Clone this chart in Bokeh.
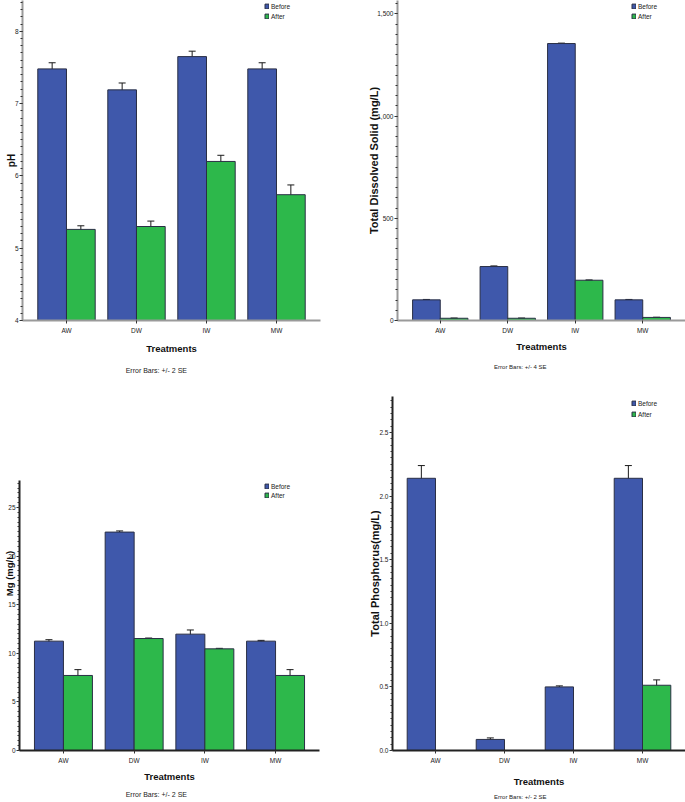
from bokeh.plotting import figure
from bokeh.models import (FactorRange, Range1d, Whisker, TeeHead, ColumnDataSource, Title,
                          Legend, LegendItem, SingleIntervalTicker, NumeralTickFormatter)
from bokeh.transform import dodge
from bokeh.layouts import row, column
from bokeh.embed import file_html
from bokeh.resources import INLINE

# ---------------- data ----------------
treatments = ["AW", "DW", "IW", "MW"]
series = ["Before", "After"]

ph_before = [7.48, 7.19, 7.65, 7.48]
ph_after = [5.26, 5.30, 6.20, 5.74]
ph_before_err = [0.085, 0.095, 0.075, 0.085]
ph_after_err = [0.05, 0.075, 0.085, 0.135]

tds_before = [101, 264, 1355, 101]
tds_after = [11, 11, 197, 15]
tds_before_err = [2, 3, 2, 2]
tds_after_err = [1, 1, 1.5, 1]

mg_before = [11.25, 22.47, 11.97, 11.25]
mg_after = [7.72, 11.52, 10.46, 7.72]
mg_before_err = [0.15, 0.12, 0.43, 0.08]
mg_after_err = [0.6, 0.05, 0.05, 0.6]

tp_before = [2.14, 0.087, 0.50, 2.14]
tp_after = [0.0, 0.0, 0.0, 0.513]
tp_before_err = [0.10, 0.012, 0.008, 0.10]
tp_after_err = [0.0, 0.0, 0.0, 0.042]

BLUE = "#3F58AB"
GREEN = "#2DB84B"
EDGE = "#2a2f45"
FONT = "Liberation Sans"


def make_panel(fig_box, frame, ymin, ymax, pad,
               before, after, berr, aerr, ytitle, ytitle_size, ytitle_standoff,
               xtitle_standoff, err_text, err_center_x, err_size, err_standoff,
               axis_color, interval, legend_center, legend_left, legend_spacing,
               fmt=None, axis_top=None):
    fx, fy, fwid, fhgt = fig_box
    fl, fr, ft, fb = frame
    # absolute padding is added on each side of the factor range
    x_range = FactorRange(factors=treatments, range_padding=pad / 2.0,
                          range_padding_units="absolute")
    y_range = Range1d(ymin, ymax)
    p = figure(width=fwid, height=fhgt, x_range=x_range, y_range=y_range,
               output_backend="svg", toolbar_location=None,
               min_border=0,
               min_border_left=fl - fx, min_border_right=fx + fwid - fr,
               min_border_top=ft - fy, min_border_bottom=fy + fhgt - fb,
               outline_line_color=None, background_fill_color="white",
               border_fill_color="white")
    p.xgrid.visible = False
    p.ygrid.visible = False

    src = ColumnDataSource(dict(t=treatments, before=before, after=after))
    rb = p.vbar(x=dodge("t", -0.205, range=p.x_range), top="before", bottom=ymin, width=0.41,
                source=src, fill_color=BLUE, line_color=EDGE, line_width=1)
    ra = p.vbar(x=dodge("t", 0.205, range=p.x_range), top="after", bottom=ymin, width=0.41,
                source=src, fill_color=GREEN, line_color=EDGE, line_width=1)

    for vals, errs, off in ((before, berr, -0.205), (after, aerr, 0.205)):
        idx = [i for i in range(len(vals)) if errs[i] > 0]
        wsrc = ColumnDataSource(dict(
            t=[treatments[i] for i in idx],
            lo=[vals[i] - errs[i] for i in idx],
            hi=[vals[i] + errs[i] for i in idx]))
        w = Whisker(base=dodge("t", off, range=p.x_range), upper="hi", lower="lo", source=wsrc,
                    line_color="#1a1a1a", line_width=1,
                    upper_head=TeeHead(size=7, line_color="#1a1a1a", line_width=1),
                    lower_head=TeeHead(size=7, line_color="#1a1a1a", line_width=1))
        p.add_layout(w)

    # axes
    for ax in (p.xaxis[0], p.yaxis[0]):
        ax.axis_line_color = axis_color
        ax.axis_line_width = 2
        ax.major_tick_line_color = "#333333"
        ax.major_tick_in = 0
        ax.major_tick_out = 3
        ax.major_label_text_font = FONT
        ax.major_label_text_font_size = "6.5px"
        ax.major_label_text_color = "#222222"
        ax.axis_label_text_color = "#111111"
        ax.axis_label_text_font = FONT
        ax.axis_label_text_font_style = "bold"
    p.xaxis.major_label_standoff = 3
    p.yaxis.major_label_standoff = 1
    p.yaxis.ticker = SingleIntervalTicker(interval=interval, num_minor_ticks=10)
    p.yaxis.minor_tick_line_color = "#333333"
    p.yaxis.minor_tick_in = 0
    p.yaxis.minor_tick_out = 2
    if axis_top is not None:
        p.yaxis.bounds = (ymin, axis_top)
    if fmt:
        p.yaxis.formatter = NumeralTickFormatter(format=fmt)

    p.yaxis.axis_label = ytitle
    p.yaxis.axis_label_text_font_size = ytitle_size
    p.yaxis.axis_label_standoff = ytitle_standoff
    p.xaxis.axis_label = "Treatments"
    p.xaxis.axis_label_text_font_size = "9.5px"
    p.xaxis.axis_label_standoff = xtitle_standoff

    est_w = len(err_text) * 0.44 * float(err_size.replace("px", ""))
    t = Title(text=err_text, align="left", offset=err_center_x - fl - est_w / 2,
              text_font=FONT, text_font_size=err_size, text_font_style="normal",
              text_color="#222222", standoff=err_standoff)
    p.add_layout(t, "below")

    item_h = 9
    leg_top = legend_center - item_h / 2.0
    leg_h = 2 * item_h + legend_spacing
    legend = Legend(items=[LegendItem(label=series[0], renderers=[rb]),
                           LegendItem(label=series[1], renderers=[ra])],
                    location=(legend_left - fl, fb - (leg_top + leg_h)),
                    padding=0, margin=0, spacing=legend_spacing,
                    glyph_width=5, glyph_height=6, label_height=item_h, label_width=10,
                    label_standoff=2, label_text_font=FONT, label_text_font_size="6.5px",
                    label_text_color="#222222",
                    background_fill_alpha=0, border_line_color=None)
    p.add_layout(legend)
    return p


# top row: frames share top 0 and bottom 320
p1 = make_panel((0, 0, 345, 385), (22, 320, 0, 320), 4, 4 + 320 / 72.3, 0.257,
                ph_before, ph_after, ph_before_err, ph_after_err,
                "pH", "10px", -5, 6, "Error Bars: +/- 2 SE", 156, "7px", 16,
                "#9a9a9a", 1, 6, 264, 1)
p2 = make_panel((345, 0, 340, 385), (397, 685, 0, 320), 0, 320 / 0.2044, 0.267,
                tds_before, tds_after, tds_before_err, tds_after_err,
                "Total Dissolved Solid (mg/L)", "11px", -6, 4, "Error Bars: +/- 4 SE", 520, "6px", 15,
                "#9a9a9a", 500, 6, 631, 1, fmt="0,0")
# bottom row: frames share top 396 and bottom 750
p3 = make_panel((0, 385, 345, 417), (19, 319, 396, 750), 0, 354 / 9.72, 0.243,
                mg_before, mg_after, mg_before_err, mg_after_err,
                "Mg (mg/L)", "9.5px", -10, 4, "Error Bars: +/- 2 SE", 156, "7px", 9,
                "#222222", 5, 486, 264, 0, axis_top=270 / 9.72)
p4 = make_panel((345, 385, 340, 417), (392, 685, 396, 750), 0, 354 / 127.2, 0.246,
                tp_before, tp_after, tp_before_err, tp_after_err,
                "Total Phosphorus(mg/L)", "11px", -5, 9, "Error Bars: +/- 2 SE", 520, "6px", 4,
                "#222222", 0.5, 403, 631, 2, fmt="0.0")

layout = column(row(p1, p2), row(p3, p4))
open("out.html", "w").write(file_html(layout, INLINE))
